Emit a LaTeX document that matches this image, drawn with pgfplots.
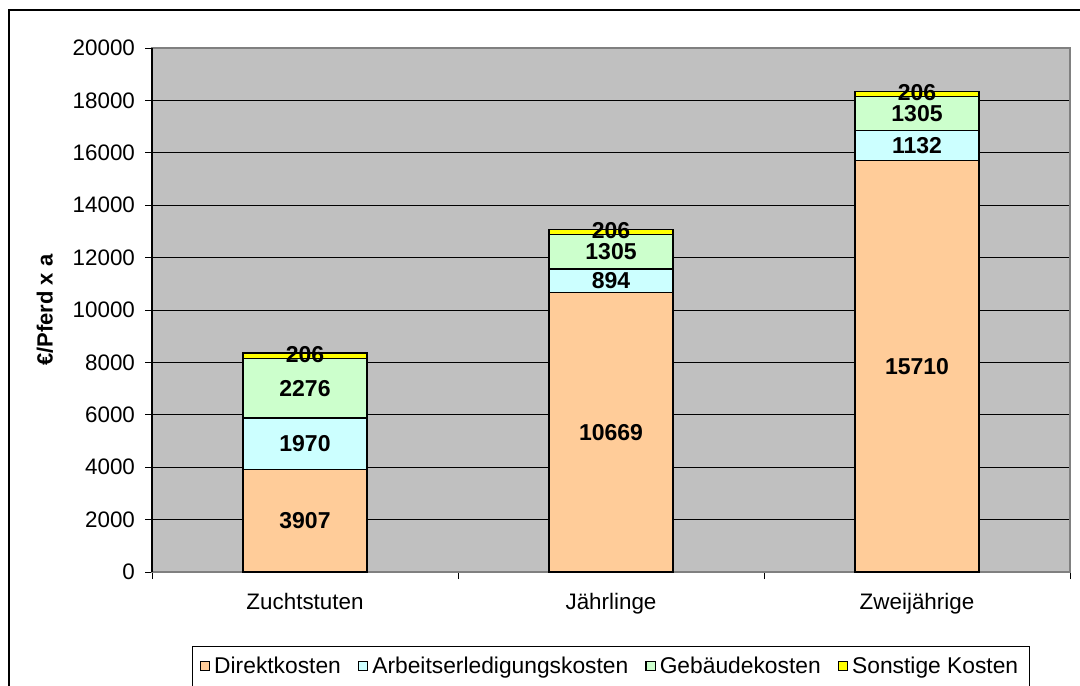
\documentclass[border=0pt]{standalone}
\usepackage{pgfplots}
\pgfplotsset{compat=1.18}
\usepackage{fontspec}
\setmainfont{Liberation Sans}
\definecolor{plotbg}{RGB}{192,192,192}
\definecolor{cDirekt}{RGB}{255,204,153}
\definecolor{cArbeit}{RGB}{204,255,255}
\definecolor{cGeb}{RGB}{204,255,204}
\definecolor{cSonst}{RGB}{255,255,0}
\begin{document}
\begin{tikzpicture}
\useasboundingbox (0,0) rectangle (540pt,-342.5pt);
\draw[line width=1pt] (4.5pt,-5pt) rectangle (570pt,-370pt);
\begin{axis}[
  at={(76pt,-286pt)}, anchor=south west,
  scale only axis, width=459pt, height=262pt,
  ybar stacked, bar width=0.405,
  xmin=-0.5, xmax=2.5, ymin=0, ymax=20000,
  ytick={0,2000,...,20000},
  /pgf/number format/assume math mode=true,
  /pgf/number format/1000 sep={},
  scaled y ticks=false,
  ymajorgrids, major grid style={black, line width=0.5pt},
  axis background/.style={fill=plotbg},
  axis line style={draw=gray, line width=0.6pt},
  tick align=outside, major tick length=3.5pt,
  tick style={black, line width=0.5pt},
  ytick pos=left, xtick pos=bottom,
  xtick={-0.5,0.5,1.5,2.5}, xticklabels={},
  extra x ticks={0,1,2},
  extra x tick labels={Zuchtstuten,Jährlinge,Zweijährige},
  extra x tick style={major tick length=0pt, tick label style={yshift=-7pt}},
  tick label style={font=\fontsize{11.2}{13}\selectfont},
  yticklabel style={xshift=-1.5pt},
  ylabel={\textbf{€/Pferd x a}},
  every axis y label/.style={at={(axis description cs:-0.1166,0.5)}, rotate=90, anchor=center, font=\fontsize{11}{13}\selectfont},
  legend style={at={(0.5,-0.1412)}, anchor=north, legend columns=4, draw=black, line width=0.5pt,
    font=\fontsize{11.4}{13}\selectfont, inner ysep=3pt, inner xsep=3.5pt,
    /tikz/every even column/.append style={column sep=6.5pt}},
  legend image code/.code={\draw[#1, draw=black, line width=0.6pt] (0pt,-2.3pt) rectangle (4.6pt,2.3pt);},
  legend cell align=left,
]
\addplot[fill=cDirekt, draw=black, line width=0.6pt] coordinates {(0,3907) (1,10669) (2,15710)};
\addplot[fill=cArbeit, draw=black, line width=0.6pt] coordinates {(0,1970) (1,894) (2,1132)};
\addplot[fill=cGeb, draw=black, line width=0.6pt] coordinates {(0,2276) (1,1305) (2,1305)};
\addplot[fill=cSonst, draw=black, line width=0.6pt] coordinates {(0,206) (1,206) (2,206)};
\legend{Direktkosten,Arbeitserledigungskosten,Gebäudekosten,Sonstige Kosten}
\end{axis}
\begin{axis}[
  at={(76pt,-286pt)}, anchor=south west,
  scale only axis, width=459pt, height=262pt,
  xmin=-0.5, xmax=2.5, ymin=0, ymax=20000,
  hide axis,
  point meta=explicit symbolic,
  nodes near coords, nodes near coords align=center,
  every node near coord/.append style={font=\bfseries\fontsize{11.5}{13}\selectfont, anchor=center, inner sep=0pt},
]
\addplot[only marks, mark=none] coordinates {
  (0,1953.5)[3907] (0,4892)[1970] (0,7015)[2276] (0,8300)[206]
  (1,5334.5)[10669] (1,11116)[894] (1,12215.5)[1305] (1,13015)[206]
  (2,7855)[15710] (2,16276)[1132] (2,17494.5)[1305] (2,18300)[206]
};
\end{axis}
\draw[black, line width=0.6pt] (76pt,-286pt) -- (76pt,-24pt);
\end{tikzpicture}
\end{document}
